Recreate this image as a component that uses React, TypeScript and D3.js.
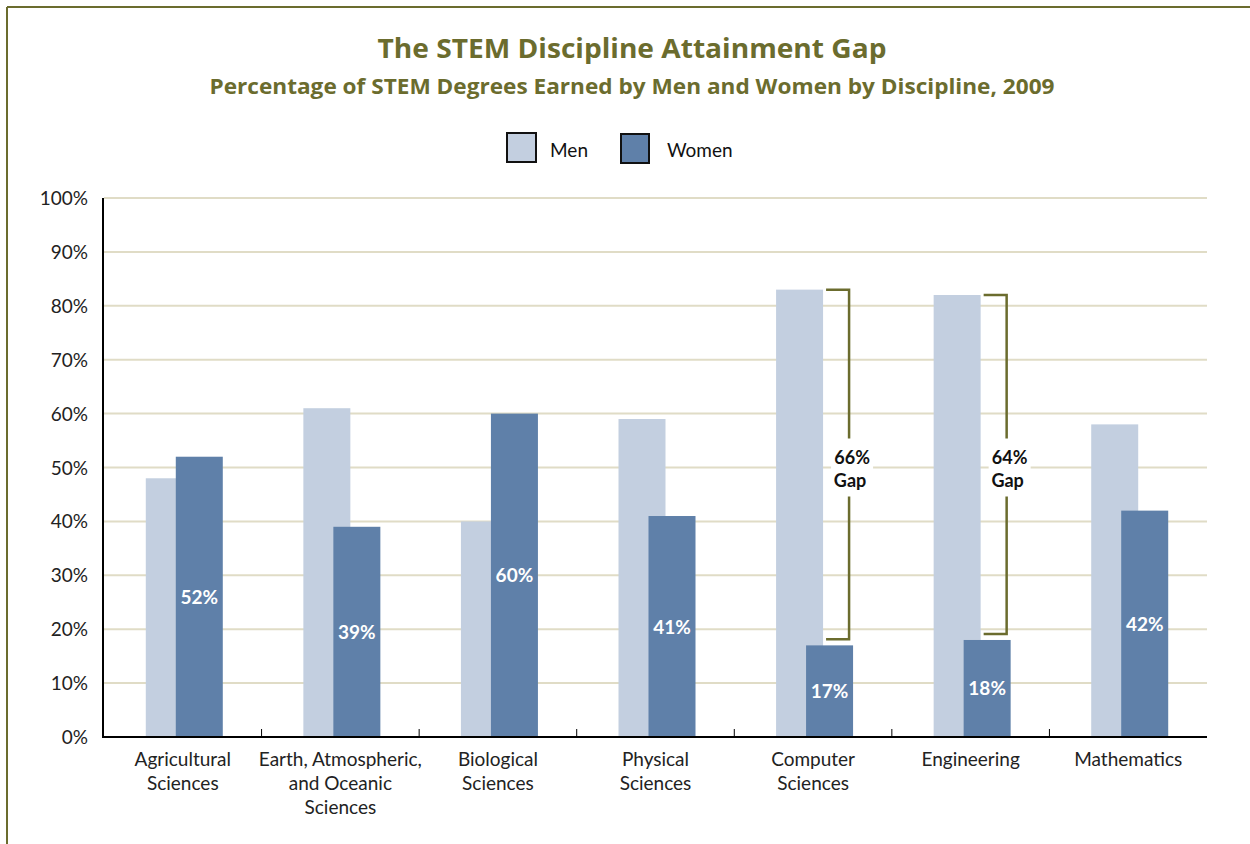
import React from 'react';
import * as d3 from 'd3';

const categories = [
  ['Agricultural', 'Sciences'],
  ['Earth, Atmospheric,', 'and Oceanic', 'Sciences'],
  ['Biological', 'Sciences'],
  ['Physical', 'Sciences'],
  ['Computer', 'Sciences'],
  ['Engineering'],
  ['Mathematics'],
];
const menValues = [48, 61, 40, 59, 83, 82, 58];
const womenValues = [52, 39, 60, 41, 17, 18, 42];
const yTicks = [0, 10, 20, 30, 40, 50, 60, 70, 80, 90, 100];
// gap brackets: category index and label
const gaps = [
  { idx: 4, label: '66%' },
  { idx: 5, label: '64%' },
];

const W = 1250;
const H = 844;
const margin = { top: 198, right: 43, bottom: 107, left: 104 };

const MEN = '#C3CFE0';
const WOMEN = '#5F80A9';
const OLIVE = '#6B6C2E';
const GRID = '#E0DCC6';
const FONT = 'Lato, "Open Sans", sans-serif';
const TITLE_FONT = '"Open Sans", Lato, sans-serif';

const App = () => {
  const x = d3
    .scaleBand<number>()
    .domain(d3.range(categories.length))
    .range([margin.left, W - margin.right])
    .paddingInner(0)
    .paddingOuter(0);
  const y = d3
    .scaleLinear()
    .domain([0, 100])
    .range([H - margin.bottom, margin.top]);

  const bw = x.bandwidth();
  const barW = 47;
  const menX = (i: number) => (x(i) as number) + bw / 2 - 37;
  const womenX = (i: number) => menX(i) + 30;
  const y0 = y(0);

  return (
    <svg
      width={W}
      height={H}
      style={{ position: 'absolute', left: 0, top: 0, display: 'block', background: '#fff' }}
      fontFamily={FONT}
    >
      {/* frame */}
      <line x1={7} y1={7} x2={W} y2={7} stroke={OLIVE} strokeWidth={2} />
      <line x1={7} y1={7} x2={7} y2={H} stroke={OLIVE} strokeWidth={2} />

      {/* titles */}
      <text
        x={632}
        y={58}
        textAnchor="middle"
        fontFamily={TITLE_FONT}
        fontSize={26}
        fontWeight="bold"
        fill={OLIVE}
        textLength={509}
        lengthAdjust="spacingAndGlyphs"
      >
        The STEM Discipline Attainment Gap
      </text>
      <text
        x={632}
        y={94}
        textAnchor="middle"
        fontFamily={TITLE_FONT}
        fontSize={21}
        fontWeight="bold"
        fill={OLIVE}
        textLength={845}
        lengthAdjust="spacingAndGlyphs"
      >
        Percentage of STEM Degrees Earned by Men and Women by Discipline, 2009
      </text>

      {/* legend */}
      <rect x={507} y={133} width={29} height={29} fill={MEN} stroke="#111" strokeWidth={2} />
      <text x={550} y={157} fontSize={19} fill="#111">Men</text>
      <rect x={621} y={134} width={28} height={29} fill={WOMEN} stroke="#111" strokeWidth={2} />
      <text x={667} y={157} fontSize={19} fill="#111">Women</text>

      {/* grid */}
      {yTicks.filter((t) => t > 0).map((t) => (
        <line key={t} x1={margin.left} x2={W - margin.right} y1={y(t)} y2={y(t)} stroke={GRID} strokeWidth={2} />
      ))}

      {/* y tick labels */}
      {yTicks.map((t) => (
        <text key={t} x={88} y={y(t) + 7} textAnchor="end" fontSize={19} fill="#222">
          {t}%
        </text>
      ))}

      {/* bars */}
      {menValues.map((v, i) => (
        <rect key={'m' + i} x={menX(i)} y={y(v)} width={barW} height={y0 - y(v)} fill={MEN} />
      ))}
      {womenValues.map((v, i) => (
        <rect key={'w' + i} x={womenX(i)} y={y(v)} width={barW} height={y0 - y(v)} fill={WOMEN} />
      ))}
      {womenValues.map((v, i) => (
        <text
          key={'l' + i}
          x={womenX(i) + barW / 2}
          y={(y(v) + y0) / 2 + 7}
          textAnchor="middle"
          fontSize={19}
          fontWeight="bold"
          fill="#fff"
        >
          {v}%
        </text>
      ))}

      {/* gap brackets */}
      {gaps.map((g) => {
        const x1 = menX(g.idx) + barW + 3;
        const x2 = x1 + 23;
        const yTop = y(menValues[g.idx]);
        const yBot = y(womenValues[g.idx]) - 6;
        const ym = (yTop + yBot) / 2 + 3;
        return (
          <g key={g.idx}>
            <path
              d={`M${x1},${yTop}H${x2}V${yBot}H${x1}`}
              fill="none"
              stroke={OLIVE}
              strokeWidth={2.5}
            />
            <rect x={x2 - 18} y={ym - 29} width={42} height={58} fill="#fff" />
            <text x={x2 + 3} y={ym - 4} textAnchor="middle" fontSize={18} fontWeight="bold" fill="#111">
              {g.label}
            </text>
            <text x={x2 + 1} y={ym + 19} textAnchor="middle" fontSize={18} fontWeight="bold" fill="#111">
              Gap
            </text>
          </g>
        );
      })}

      {/* axes */}
      <line x1={margin.left - 1} x2={margin.left - 1} y1={y(100)} y2={y0 + 1} stroke="#000" strokeWidth={2} />
      <line x1={margin.left - 2} x2={W - margin.right} y1={y0} y2={y0} stroke="#000" strokeWidth={2} />
      {d3.range(1, categories.length).map((i) => (
        <line key={i} x1={x(i)} x2={x(i)} y1={y0} y2={y0 - 8} stroke="#000" strokeWidth={1} />
      ))}

      {/* category labels */}
      {categories.map((lines, i) => (
        <text key={i} x={(x(i) as number) + bw / 2} textAnchor="middle" fontSize={19} fill="#222">
          {lines.map((l, j) => (
            <tspan key={j} x={(x(i) as number) + bw / 2} y={766 + j * 24}>
              {l}
            </tspan>
          ))}
        </text>
      ))}
    </svg>
  );
};

export default App;
